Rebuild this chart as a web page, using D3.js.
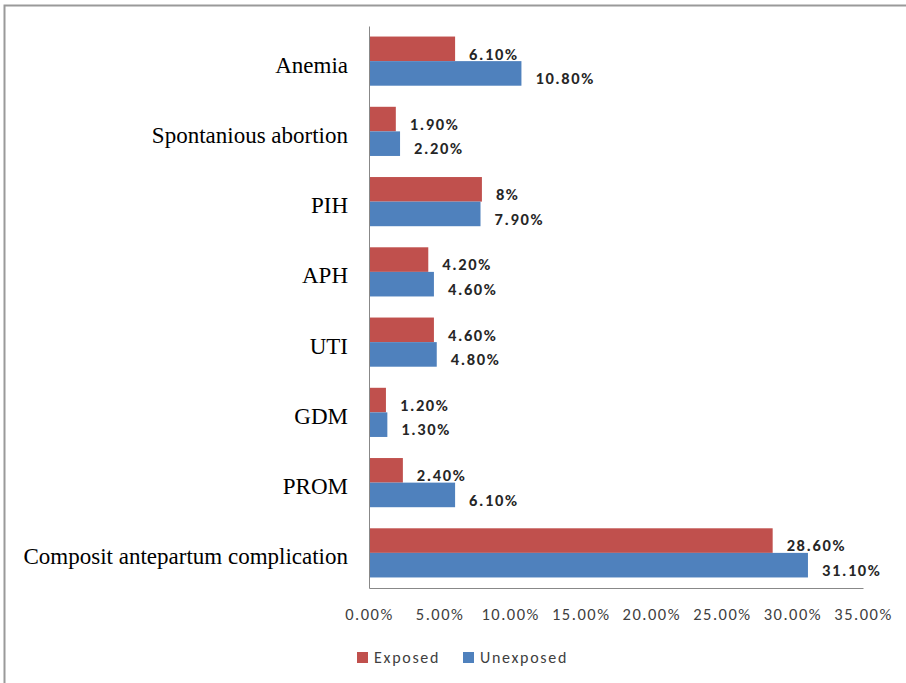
<!DOCTYPE html>
<html>
<head>
<meta charset="utf-8">
<script src="https://cdn.jsdelivr.net/npm/d3@7"></script>
<style>
  body { margin: 0; background: #fff; }
  svg { display: block; }
</style>
</head>
<body>
<svg width="906" height="683"></svg>
<script>
const categories = [
  "Anemia",
  "Spontanious abortion",
  "PIH",
  "APH",
  "UTI",
  "GDM",
  "PROM",
  "Composit antepartum complication"
];
const exposed = [6.1, 1.9, 8, 4.2, 4.6, 1.2, 2.4, 28.6];
const unexposed = [10.8, 2.2, 7.9, 4.6, 4.8, 1.3, 6.1, 31.1];
const exposedLabels = ["6.10%", "1.90%", "8%", "4.20%", "4.60%", "1.20%", "2.40%", "28.60%"];
const unexposedLabels = ["10.80%", "2.20%", "7.90%", "4.60%", "4.80%", "1.30%", "6.10%", "31.10%"];
const xTicks = [0, 5, 10, 15, 20, 25, 30, 35];
const seriesNames = ["Exposed", "Unexposed"];
const colors = ["#C0504D", "#4F81BD"];

const svg = d3.select("svg");

// outer frame: only the top and left edges show
svg.append("path")
  .attr("d", "M4.5,683 V5.5 H906")
  .attr("fill", "none")
  .attr("stroke", "#9a9a9a")
  .attr("stroke-width", 2);

const margin = { top: 26, left: 369, right: 43, bottom: 95 };
const width = 906 - margin.left - margin.right;
const height = 683 - margin.top - margin.bottom;
const g = svg.append("g").attr("transform", `translate(${margin.left},${margin.top})`);

const x = d3.scaleLinear().domain([0, 35]).range([0, width]);
const y = d3.scaleBand().domain(categories).range([0, height]).paddingInner(0.3).paddingOuter(0.15);
const sub = d3.scaleBand().domain([0, 1]).range([0, y.bandwidth()]);

const rows = categories.map((c, i) => ({
  cat: c,
  vals: [exposed[i], unexposed[i]],
  labels: [exposedLabels[i], unexposedLabels[i]]
}));

const row = g.selectAll(".row").data(rows).enter().append("g")
  .attr("transform", (d) => `translate(0,${y(d.cat)})`);

row.selectAll("rect").data((d) => d.vals).enter().append("rect")
  .attr("x", 0)
  .attr("y", (d, j) => sub(j))
  .attr("width", (d) => x(d))
  .attr("height", sub.bandwidth())
  .attr("fill", (d, j) => colors[j]);

row.selectAll("text").data((d) => d.vals.map((v, j) => ({ v, j, t: d.labels[j] }))).enter().append("text")
  .attr("x", (d) => x(d.v) + 14)
  .attr("y", (d) => sub(d.j) + sub.bandwidth() / 2 + 5)
  .attr("dy", "0.35em")
  .attr("font-family", "Carlito, 'Open Sans', sans-serif")
  .attr("font-weight", "bold")
  .attr("font-size", 16.5)
  .attr("letter-spacing", 1.6)
  .attr("fill", "#262626")
  .text((d) => d.t);

// x axis
const xAxis = g.append("g")
  .attr("transform", `translate(0,${height})`)
  .call(d3.axisBottom(x).tickValues(xTicks).tickSize(0).tickPadding(20)
    .tickFormat((d) => d.toFixed(2) + "%"));
xAxis.select(".domain").attr("stroke", "#888");
xAxis.selectAll("text")
  .attr("font-family", "Carlito, 'Open Sans', sans-serif")
  .attr("font-size", 16.5)
  .attr("letter-spacing", 1.5)
  .attr("fill", "#404040");

// y axis
const yAxis = g.append("g")
  .call(d3.axisLeft(y).tickSize(0).tickPadding(21));
yAxis.select(".domain").attr("stroke", "#888");
yAxis.selectAll("text")
  .attr("font-family", "'Liberation Serif', 'Times New Roman', serif")
  .attr("font-size", 23)
  .attr("dy", "0.5em")
  .attr("fill", "#000");

// legend
const legend = svg.append("g").attr("transform", "translate(357,657)");
const item = legend.selectAll("g").data(seriesNames).enter().append("g")
  .attr("transform", (d, i) => `translate(${i * 106},0)`);
item.append("rect")
  .attr("x", 0).attr("y", -5)
  .attr("width", 11).attr("height", 11)
  .attr("fill", (d, i) => colors[i]);
item.append("text")
  .attr("x", 17).attr("dy", "0.35em")
  .attr("font-family", "Carlito, 'Open Sans', sans-serif")
  .attr("font-size", 16)
  .attr("letter-spacing", 1.7)
  .attr("fill", "#404040")
  .text((d) => d);
</script>
</body>
</html>
